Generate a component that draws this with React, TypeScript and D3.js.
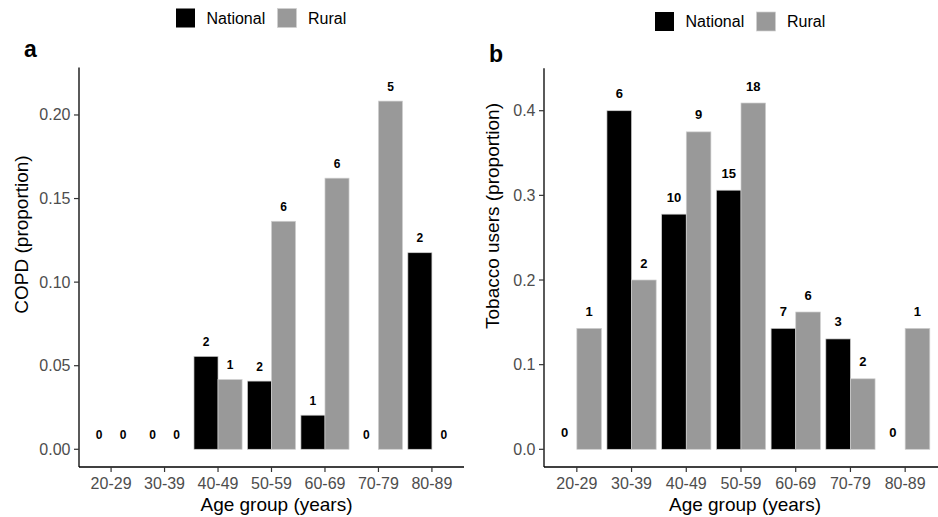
import React from "react";
import * as d3 from "d3";

const ageGroups = ["20-29", "30-39", "40-49", "50-59", "60-69", "70-79", "80-89"];
const seriesNames = ["National", "Rural"];
const seriesColors = ["#000000", "#999999"];

const copdNational = [0, 0, 0.0556, 0.0408, 0.0204, 0, 0.1176];
const copdRural = [0, 0, 0.0417, 0.1364, 0.1622, 0.2083, 0];
const copdNationalN = [0, 0, 2, 2, 1, 0, 2];
const copdRuralN = [0, 0, 1, 6, 6, 5, 0];
const copdTicks = [0, 0.05, 0.1, 0.15, 0.2];

const tobNational = [0, 0.4, 0.2778, 0.3061, 0.1429, 0.1304, 0];
const tobRural = [0.1429, 0.2, 0.375, 0.4091, 0.1622, 0.0833, 0.1429];
const tobNationalN = [0, 6, 10, 15, 7, 3, 0];
const tobRuralN = [1, 2, 9, 18, 6, 2, 1];
const tobTicks = [0, 0.1, 0.2, 0.3, 0.4];

const FONT = "'Liberation Sans', Arial, Helvetica, sans-serif";

type PanelProps = {
  letter: string;
  letterX: number;
  letterY: number;
  x0: number;
  x1: number;
  yTop: number;
  yBottom: number;
  domain: [number, number];
  ticks: number[];
  tickFmt: (v: number) => string;
  national: number[];
  rural: number[];
  nationalN: number[];
  ruralN: number[];
  yTitle: string;
  yTitleX: number;
  yTitleY: number;
  xTitleX: number;
  labelOffset: number;
  labelSize: number;
  legendX: number;
  legendY: number;
};

function Panel(p: PanelProps) {
  const x = d3
    .scaleBand<string>()
    .domain(ageGroups)
    .range([p.x0, p.x1])
    .paddingInner(0.1)
    .paddingOuter(0.15);
  const xs = d3.scaleBand<string>().domain(seriesNames).range([0, x.bandwidth()]).padding(0);
  const y = d3.scaleLinear().domain(p.domain).range([p.yBottom, p.yTop]);
  const series = [
    { name: seriesNames[0], vals: p.national, ns: p.nationalN, color: seriesColors[0] },
    { name: seriesNames[1], vals: p.rural, ns: p.ruralN, color: seriesColors[1] },
  ];
  const tickLen = 5;
  return (
    <g>
      <text x={p.letterX} y={p.letterY} fontFamily={FONT} fontWeight="bold" fontSize={23} fill="#000">
        {p.letter}
      </text>
      <g>
        <rect x={p.legendX} y={p.legendY - 9.5} width={19} height={19} fill={seriesColors[0]} />
        <text x={p.legendX + 30.5} y={p.legendY} dominantBaseline="central" fontFamily={FONT} fontSize={16} fill="#000">
          {seriesNames[0]}
        </text>
        <rect x={p.legendX + 101.5} y={p.legendY - 9.5} width={19} height={19} fill={seriesColors[1]} stroke="#d0d0d0" strokeWidth={0.7} />
        <text x={p.legendX + 132} y={p.legendY} dominantBaseline="central" fontFamily={FONT} fontSize={16} fill="#000">
          {seriesNames[1]}
        </text>
      </g>
      {series.map((s) =>
        ageGroups.map((g, i) => {
          const bx = (x(g) as number) + (xs(s.name) as number);
          const by = y(s.vals[i]);
          const h = y(0) - by;
          return (
            <g key={s.name + g}>
              {h > 0 && (
                <rect x={bx} y={by} width={xs.bandwidth()} height={h} fill={s.color} stroke="#cfcfcf" strokeWidth={0.7} />
              )}
              <text
                x={bx + xs.bandwidth() / 2}
                y={by - p.labelOffset}
                textAnchor="middle"
                dominantBaseline="central"
                fontFamily={FONT}
                fontWeight="bold"
                fontSize={p.labelSize}
                fill="#000"
              >
                {s.ns[i]}
              </text>
            </g>
          );
        })
      )}
      <line x1={p.x0} x2={p.x0} y1={p.yTop} y2={p.yBottom} stroke="#000" strokeWidth={1.3} />
      {p.ticks.map((t) => (
        <g key={t}>
          <line x1={p.x0 - tickLen} x2={p.x0} y1={y(t)} y2={y(t)} stroke="#333" strokeWidth={1.2} />
          <text
            x={p.x0 - tickLen - 3.5}
            y={y(t)}
            textAnchor="end"
            dominantBaseline="central"
            fontFamily={FONT}
            fontSize={16}
            fill="#4d4d4d"
          >
            {p.tickFmt(t)}
          </text>
        </g>
      ))}
      <line x1={p.x0} x2={p.x1} y1={p.yBottom} y2={p.yBottom} stroke="#000" strokeWidth={1.3} />
      {ageGroups.map((g) => {
        const cx = (x(g) as number) + x.bandwidth() / 2;
        return (
          <g key={g}>
            <line x1={cx} x2={cx} y1={p.yBottom} y2={p.yBottom + tickLen} stroke="#333" strokeWidth={1.2} />
            <text x={cx} y={489} textAnchor="middle" fontFamily={FONT} fontSize={16} fill="#4d4d4d">
              {g}
            </text>
          </g>
        );
      })}
      <text x={p.xTitleX} y={511} textAnchor="middle" fontFamily={FONT} fontSize={19} fill="#000">
        Age group (years)
      </text>
      <text
        transform={`translate(${p.yTitleX},${p.yTitleY}) rotate(-90)`}
        textAnchor="middle"
        fontFamily={FONT}
        fontSize={19}
        fill="#000"
      >
        {p.yTitle}
      </text>
    </g>
  );
}

export default function App() {
  return (
    <svg
      width={938}
      height={517}
      style={{ position: "absolute", left: 0, top: 0, display: "block", background: "#fff" }}
    >
      <rect x={0} y={0} width={938} height={517} fill="#fff" />
      <Panel
        letter="a"
        letterX={24}
        letterY={57}
        x0={79}
        x1={464}
        yTop={67.5}
        yBottom={467}
        domain={[-0.0106, 0.2284]}
        ticks={copdTicks}
        tickFmt={d3.format(".2f")}
        national={copdNational}
        rural={copdRural}
        nationalN={copdNationalN}
        ruralN={copdRuralN}
        yTitle="COPD (proportion)"
        yTitleX={28}
        yTitleY={234.5}
        xTitleX={276.5}
        labelOffset={14.5}
        labelSize={12}
        legendX={176}
        legendY={18}
      />
      <Panel
        letter="b"
        letterX={489}
        letterY={62}
        x0={544}
        x1={938}
        yTop={68.3}
        yBottom={467}
        domain={[-0.0209, 0.4501]}
        ticks={tobTicks}
        tickFmt={d3.format(".1f")}
        national={tobNational}
        rural={tobRural}
        nationalN={tobNationalN}
        ruralN={tobRuralN}
        yTitle="Tobacco users (proportion)"
        yTitleX={499}
        yTitleY={216}
        xTitleX={745}
        labelOffset={17}
        labelSize={13}
        legendX={655}
        legendY={21.5}
      />
    </svg>
  );
}
